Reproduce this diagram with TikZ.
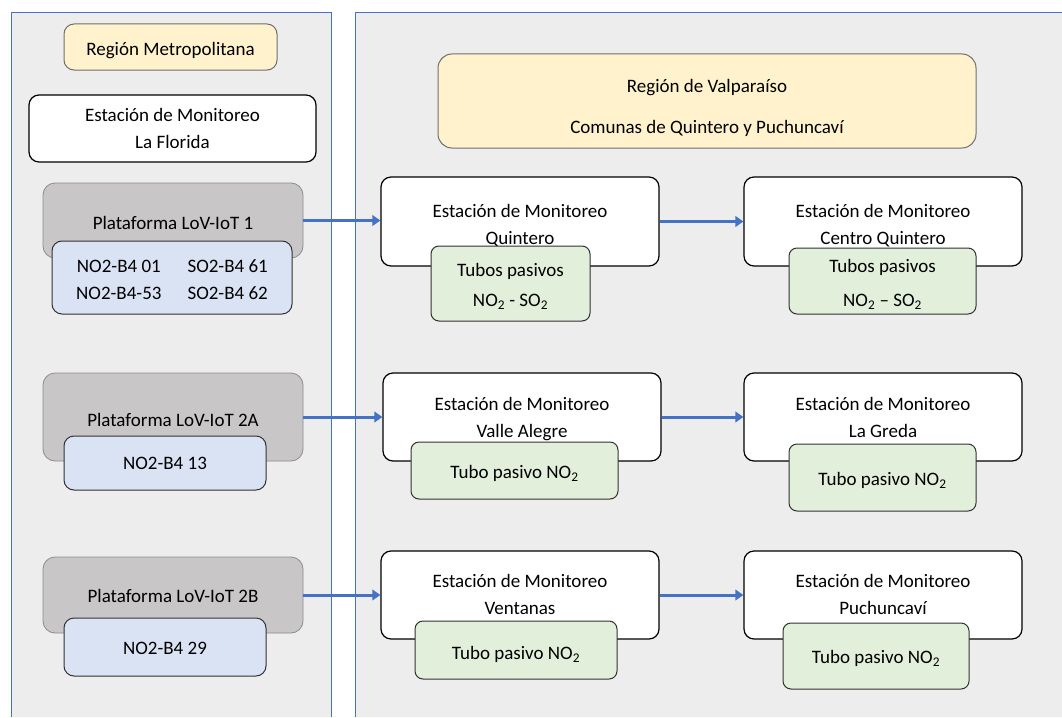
\documentclass[tikz,border=0pt]{standalone}
\usepackage{fontspec}
\setmainfont{Carlito}
\usetikzlibrary{arrows.meta}
\definecolor{panelfill}{RGB}{237,237,237}
\definecolor{panelline}{RGB}{68,114,196}
\definecolor{arrowblue}{RGB}{68,114,196}
\definecolor{yellowfill}{RGB}{255,242,204}
\definecolor{grayfill}{RGB}{200,198,198}
\definecolor{bluefill}{RGB}{218,227,243}
\definecolor{greenfill}{RGB}{226,239,218}
\definecolor{darkedge}{RGB}{50,50,50}
\definecolor{grayedge}{RGB}{140,140,140}
\definecolor{yellowedge}{RGB}{110,110,110}
% lower the text of a node by #1 without changing its box
\newcommand{\tx}[2]{\raisebox{-#1}[\height][\depth]{\begin{tabular}{@{}c@{}}#2\end{tabular}}}
\begin{document}
\begin{tikzpicture}[x=1pt,y=-1pt,
  box/.style={draw, rounded corners=10pt, align=center, inner sep=0pt,
    font=\fontsize{19}{27}\selectfont, text=black},
  whitebox/.style={box, fill=white, draw=black, line width=1.2pt},
  yellowbox/.style={box, fill=yellowfill, draw=yellowedge, line width=1pt},
  graybox/.style={box, fill=grayfill, draw=grayedge, line width=0.8pt, rounded corners=12pt},
  bluebox/.style={box, fill=bluefill, draw=darkedge, line width=1pt},
  greenbox/.style={box, fill=greenfill, draw=darkedge, line width=1pt, rounded corners=8pt},
  conn/.style={draw=arrowblue, line width=3pt, -{Triangle[length=8pt,width=10.5pt]}},
  panelborder/.style={draw=panelline, line width=1pt}
]
\useasboundingbox (0,0) rectangle (1062,717);
\fill[white] (0,0) rectangle (1062,717);
% panels
\fill[panelfill] (11,13) rectangle (331,717);
\draw[panelborder] (11,717) -- (11,13) -- (331,13) -- (331,717);
\fill[panelfill] (355,13) rectangle (1062,717);
\draw[panelborder] (355,717) -- (355,13) -- (1062,13);

% left panel
\node[yellowbox, minimum width=213pt, minimum height=46pt] (rm) at (170.5,47) {\tx{3pt}{Región Metropolitana}};
\node[whitebox, minimum width=287pt, minimum height=67pt] (lf) at (172.5,128.5) {\tx{1.5pt}{Estación de Monitoreo\\La Florida}};

\node[graybox, minimum width=260pt, minimum height=75pt] (p1) at (173,220.5) {\tx{4pt}{Plataforma LoV-IoT 1}};
\node[bluebox, minimum width=240pt, minimum height=73pt] (b1) at (172,277.5)
  {\raisebox{-3pt}[\height][\depth]{\begin{tabular}{@{}c@{\hspace{26pt}}c@{}}NO2-B4 01 & SO2-B4 61\\ NO2-B4-53 & SO2-B4 62\end{tabular}}};

\node[graybox, minimum width=260pt, minimum height=88pt] (p2) at (173,417) {\tx{4pt}{Plataforma LoV-IoT 2A}};
\node[bluebox, minimum width=202pt, minimum height=54pt] (b2) at (165,463) {\tx{1pt}{NO2-B4 13}};

\node[graybox, minimum width=260pt, minimum height=76pt] (p3) at (173,595) {\tx{2pt}{Plataforma LoV-IoT 2B}};
\node[bluebox, minimum width=202pt, minimum height=58pt] (b3) at (165,647) {\tx{2pt}{NO2-B4 29}};

% right panel
\node[yellowbox, minimum width=538pt, minimum height=94pt, rounded corners=14pt] (vp) at (707,101)
  {\tx{7pt}{Región de Valparaíso\\[14pt]Comunas de Quintero y Puchuncaví}};

\node[whitebox, minimum width=278pt, minimum height=89pt] (q1) at (520,221.5) {\tx{4pt}{Estación de Monitoreo\\Quintero}};
\node[greenbox, minimum width=159pt, minimum height=75pt] (g1) at (510.5,283.5) {\tx{3pt}{Tubos pasivos\\[3pt]NO\textsubscript{2} - SO\textsubscript{2}}};
\node[whitebox, minimum width=278pt, minimum height=89pt] (q2) at (883,221.5) {\tx{4pt}{Estación de Monitoreo\\Centro Quintero}};
\node[greenbox, minimum width=187pt, minimum height=66pt] (g2) at (882.5,281) {\tx{3pt}{Tubos pasivos\\[7pt]NO\textsubscript{2} – SO\textsubscript{2}}};

\node[whitebox, minimum width=278pt, minimum height=88pt] (v1) at (522,417) {\tx{2pt}{Estación de Monitoreo\\Valle Alegre}};
\node[greenbox, minimum width=207pt, minimum height=57pt] (gv1) at (514.5,470.5) {\tx{3pt}{Tubo pasivo NO\textsubscript{2}}};
\node[whitebox, minimum width=278pt, minimum height=88pt] (v2) at (883,417) {\tx{1.5pt}{Estación de Monitoreo\\La Greda}};
\node[greenbox, minimum width=187pt, minimum height=67pt] (gv2) at (882.5,477.5) {\tx{3pt}{Tubo pasivo NO\textsubscript{2}}};

\node[whitebox, minimum width=278pt, minimum height=88pt] (w1) at (520,595) {\tx{1pt}{Estación de Monitoreo\\Ventanas}};
\node[greenbox, minimum width=202pt, minimum height=58pt] (gw1) at (516,650) {\tx{4pt}{Tubo pasivo NO\textsubscript{2}}};
\node[whitebox, minimum width=278pt, minimum height=88pt] (w2) at (883,595) {\tx{1pt}{Estación de Monitoreo\\Puchuncaví}};
\node[greenbox, minimum width=186pt, minimum height=66pt] (gw2) at (876,656) {\tx{2pt}{Tubo pasivo NO\textsubscript{2}}};

% connectors
\draw[conn] (p1.east) -- (p1.east -| q1.west);
\draw[conn] (q1.east) -- (q2.west);
\draw[conn] (p2.east) -- (v1.west);
\draw[conn] (v1.east) -- (v2.west);
\draw[conn] (p3.east) -- (w1.west);
\draw[conn] (w1.east) -- (w2.west);
\end{tikzpicture}
\end{document}
